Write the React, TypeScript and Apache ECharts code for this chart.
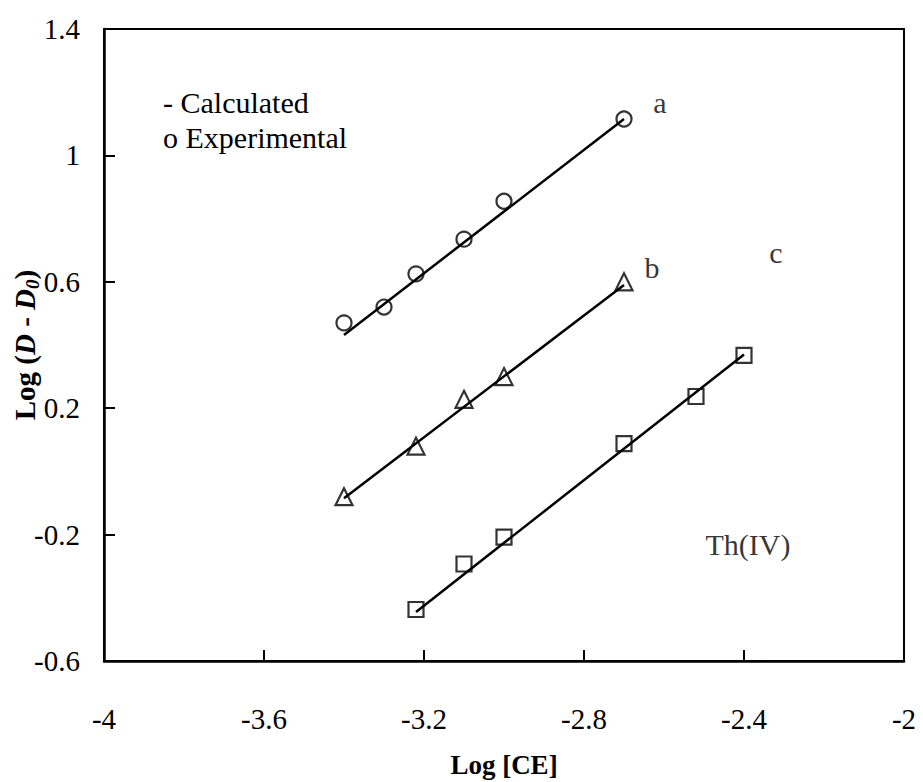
import React, { useEffect, useRef } from "react";
import * as echarts from "echarts";

// Experimental points
const expAX = [-3.4, -3.3, -3.22, -3.1, -3.0, -2.7];
const expAY = [0.47, 0.52, 0.625, 0.735, 0.855, 1.115];
const expBX = [-3.4, -3.22, -3.1, -3.0, -2.7];
const expBY = [-0.08, 0.08, 0.228, 0.3, 0.6];
const expCX = [-3.22, -3.1, -3.0, -2.7, -2.52, -2.4];
const expCY = [-0.437, -0.293, -0.208, 0.088, 0.237, 0.367];

// Calculated lines (end points)
const calcAX = [-3.4, -2.7];
const calcAY = [0.432, 1.115];
const calcBX = [-3.4, -2.7];
const calcBY = [-0.085, 0.59];
const calcCX = [-3.22, -2.4];
const calcCY = [-0.445, 0.37];

// Annotations
const noteText = ["a", "b", "c", "Th(IV)"];
const noteX = [-2.61, -2.63, -2.32, -2.39];
const noteY = [1.166, 0.645, 0.692, -0.23];

const xTicks = { min: -4, max: -2, interval: 0.4 };
const yTicks = { min: -0.6, max: 1.4, interval: 0.4 };

const FONT = "Liberation Serif";

const zip = (xs: number[], ys: number[]) => xs.map((x, i) => [x, ys[i]]);

export default function App() {
  const ref = useRef<HTMLDivElement>(null);
  useEffect(() => {
    if (!ref.current) return;
    const chart = echarts.init(ref.current, undefined, { renderer: "svg" });
    const lineStyle = { color: "#000", width: 2.5 };
    const hollow = { color: "rgba(0,0,0,0)", borderColor: "#000", borderWidth: 2.2 };
    chart.setOption({
      animation: false,
      backgroundColor: "#fff",
      textStyle: { fontFamily: FONT },
      grid: {
        left: 104,
        right: 19,
        top: 29,
        bottom: 121,
        show: true,
        borderColor: "#000",
        borderWidth: 2,
        backgroundColor: "transparent",
        containLabel: false,
        outerBoundsMode: "none",
      },
      xAxis: {
        type: "value",
        min: xTicks.min,
        max: xTicks.max,
        interval: xTicks.interval,
        name: "Log [CE]",
        nameLocation: "middle",
        nameGap: 90,
        nameMoveOverlap: false,
        nameTextStyle: { fontFamily: FONT, fontWeight: "bold", fontSize: 27, color: "#000" },
        axisLine: { show: true, onZero: false, lineStyle: { color: "#000", width: 2.5 } },
        axisTick: { show: true, inside: true, length: 11, lineStyle: { color: "#000", width: 2 } },
        axisLabel: { margin: 43, fontFamily: FONT, fontSize: 29, color: "#000" },
        splitLine: { show: false },
      },
      yAxis: {
        type: "value",
        min: yTicks.min,
        max: yTicks.max,
        interval: yTicks.interval,
        name: "{b|Log (}{bi|D}{b| - }{bi|D}{sub|0}{b|)}",
        nameLocation: "middle",
        nameRotate: 90,
        nameGap: 62,
        nameMoveOverlap: false,
        nameTextStyle: {
          color: "#000",
          rich: {
            b: { fontFamily: FONT, fontWeight: "bold", fontSize: 29, color: "#000" },
            bi: { fontFamily: FONT, fontWeight: "bold", fontStyle: "italic", fontSize: 29, color: "#000" },
            sub: { fontFamily: FONT, fontWeight: "bold", fontStyle: "italic", fontSize: 19, color: "#000", padding: [15, 0, 0, 0] },
          },
        },
        axisLine: { show: true, onZero: false, lineStyle: { color: "#000", width: 2.5 } },
        axisTick: { show: true, inside: true, length: 11, lineStyle: { color: "#000", width: 2 } },
        axisLabel: { margin: 24, fontFamily: FONT, fontSize: 29, color: "#000" },
        splitLine: { show: false },
      },
      graphic: [
        {
          type: "text",
          left: 163,
          top: 87,
          style: { text: "- Calculated", fontFamily: FONT, fontSize: 30, fill: "#000" },
        },
        {
          type: "text",
          left: 163,
          top: 122,
          style: { text: "o Experimental", fontFamily: FONT, fontSize: 30, fill: "#000" },
        },
      ],
      series: [
        { type: "line", data: zip(calcAX, calcAY), showSymbol: false, lineStyle, z: 2 },
        { type: "line", data: zip(calcBX, calcBY), showSymbol: false, lineStyle, z: 2 },
        { type: "line", data: zip(calcCX, calcCY), showSymbol: false, lineStyle, z: 2 },
        { type: "scatter", data: zip(expAX, expAY), symbol: "circle", symbolSize: 15, itemStyle: hollow, z: 3 },
        { type: "scatter", data: zip(expBX, expBY), symbol: "triangle", symbolSize: 17, itemStyle: hollow, z: 3 },
        { type: "scatter", data: zip(expCX, expCY), symbol: "rect", symbolSize: 15, itemStyle: hollow, z: 3 },
        {
          type: "scatter",
          symbolSize: 1,
          itemStyle: { color: "rgba(0,0,0,0)" },
          data: noteText.map((t, i) => ({ name: t, value: [noteX[i], noteY[i]] })),
          label: {
            show: true,
            position: "inside",
            formatter: "{b}",
            fontFamily: FONT,
            fontSize: 30,
            color: "#000",
            textBorderWidth: 0,
          },
          z: 4,
        },
      ],
    });
    return () => chart.dispose();
  }, []);
  return <div ref={ref} style={{ position: "fixed", left: 0, top: 0, width: 923, height: 782 }} />;
}
